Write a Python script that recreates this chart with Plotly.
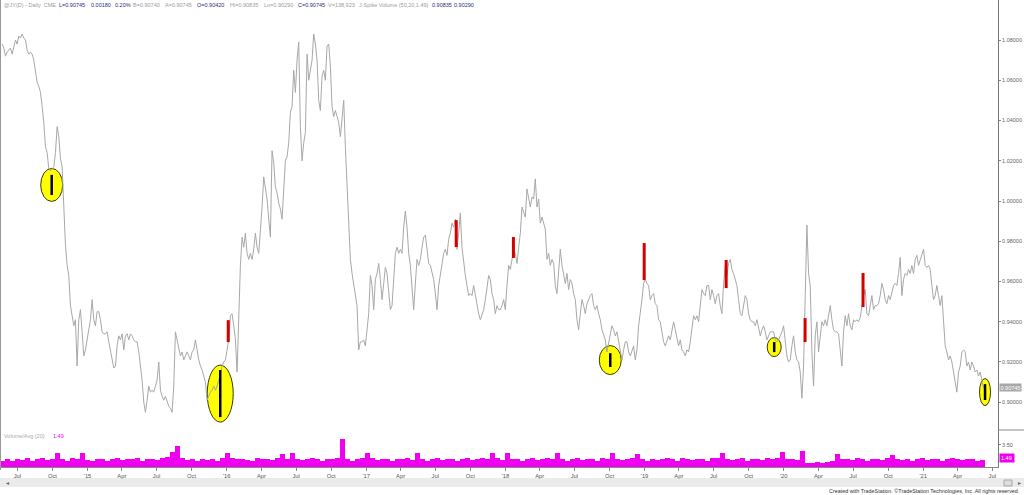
import pandas as pd
import plotly.graph_objects as go

# ---- price line (close), Jun-2014 .. Jun-2021 ----
price_2014_15 = [
    1.078, 1.076, 1.072, 1.074, 1.075, 1.076, 1.073, 1.077, 1.080, 1.078,
    1.082, 1.081, 1.083, 1.081, 1.080, 1.075, 1.073, 1.074, 1.073, 1.070,
    1.064, 1.059, 1.057, 1.054, 1.047, 1.039, 1.027, 1.024, 1.016, 1.015,
    1.016, 1.017, 1.024, 1.037, 1.032, 1.021, 1.017, 0.997, 0.978, 0.968,
    0.963, 0.948, 0.943, 0.938, 0.941, 0.918, 0.941, 0.946, 0.935, 0.923,
    0.926, 0.931, 0.936, 0.941, 0.951, 0.941, 0.938, 0.945, 0.945, 0.941,
    0.935, 0.934, 0.934, 0.935, 0.930, 0.925, 0.921, 0.917, 0.918, 0.928,
    0.933, 0.931, 0.934, 0.926, 0.933, 0.934, 0.931, 0.934, 0.933, 0.931,
    0.930, 0.930, 0.925, 0.918, 0.911, 0.900, 0.895, 0.901, 0.908, 0.905,
    0.906, 0.905, 0.908, 0.911, 0.920, 0.906, 0.903, 0.901, 0.903, 0.900,
    0.898, 0.897, 0.895, 0.908, 0.935, 0.931, 0.926, 0.923, 0.925, 0.921,
    0.923, 0.925, 0.923, 0.921, 0.925, 0.926, 0.931, 0.925, 0.921, 0.918,
    0.916, 0.913, 0.910, 0.901, 0.903, 0.905, 0.906, 0.908, 0.906, 0.908,
    0.911, 0.915, 0.918, 0.920, 0.921, 0.926, 0.931, 0.943, 0.944, 0.938,
    0.931, 0.915, 0.944, 0.968, 0.982, 0.977, 0.984, 0.974, 0.971,
]
price_2016_17 = [
    0.974, 0.971, 0.976, 0.984, 0.977, 0.974, 0.984, 0.997, 1.012, 1.006,
    1.001, 0.991, 0.982, 1.025, 1.019, 1.007, 1.004, 0.999, 0.996, 0.991,
    1.007, 1.020, 1.022, 1.029, 1.044, 1.047, 1.065, 1.054, 1.070, 1.079,
    1.037, 1.020, 1.029, 1.034, 1.073, 1.060, 1.065, 1.070, 1.083, 1.078,
    1.070, 1.050, 1.045, 1.062, 1.065, 1.060, 1.077, 1.078, 1.067, 1.047,
    1.042, 1.045, 1.042, 1.039, 1.032, 1.040, 1.050, 1.027, 1.007, 0.991,
    0.971, 0.964, 0.958, 0.954, 0.948, 0.926, 0.930, 0.930, 0.931, 0.928,
    0.938, 0.944, 0.963, 0.958, 0.946, 0.961, 0.964, 0.969, 0.961, 0.951,
    0.959, 0.967, 0.964, 0.953, 0.946, 0.948, 0.964, 0.974, 0.977, 0.974,
    0.976, 0.974, 0.987, 0.995, 0.987, 0.974, 0.968, 0.958, 0.946, 0.959,
    0.971, 0.968, 0.971, 0.977, 0.982, 0.983, 0.977, 0.969, 0.968, 0.964,
    0.961, 0.954, 0.946, 0.958, 0.964, 0.968, 0.974, 0.976, 0.973, 0.981,
    0.984, 0.989, 0.987, 0.991, 0.976, 0.984, 0.994, 0.977, 0.968, 0.963,
    0.958, 0.953, 0.954, 0.953, 0.958, 0.953, 0.948, 0.944, 0.941, 0.944,
    0.946, 0.951, 0.956, 0.963, 0.961, 0.954, 0.951, 0.944, 0.948, 0.946,
]
price_2018_19 = [
    0.946, 0.948, 0.951, 0.946, 0.958, 0.968, 0.966, 0.971, 0.976, 0.974,
    0.969, 0.977, 0.984, 0.997, 0.994, 0.992, 1.006, 1.002, 0.997, 1.002,
    1.001, 1.011, 0.997, 1.001, 0.989, 0.992, 0.989, 0.986, 0.971, 0.974,
    0.968, 0.971, 0.969, 0.958, 0.954, 0.966, 0.976, 0.968, 0.964, 0.959,
    0.964, 0.956, 0.961, 0.959, 0.954, 0.951, 0.941, 0.936, 0.944, 0.951,
    0.948, 0.944, 0.949, 0.951, 0.953, 0.954, 0.948, 0.946, 0.948, 0.944,
    0.941, 0.936, 0.933, 0.931, 0.925, 0.930, 0.935, 0.938, 0.936, 0.933,
    0.935, 0.930, 0.925, 0.921, 0.926, 0.930, 0.930, 0.925, 0.923, 0.926,
    0.928, 0.921, 0.926, 0.938, 0.944, 0.951, 0.959, 0.961, 0.959, 0.958,
    0.951, 0.953, 0.954, 0.949, 0.948, 0.941, 0.940, 0.935, 0.930, 0.928,
    0.931, 0.933, 0.931, 0.935, 0.940, 0.936, 0.931, 0.928, 0.931, 0.926,
    0.925, 0.923, 0.926, 0.925, 0.930, 0.938, 0.943, 0.941, 0.943, 0.940,
    0.948, 0.956, 0.954, 0.953, 0.958, 0.958, 0.951, 0.956, 0.953, 0.949,
    0.953, 0.954, 0.948, 0.944, 0.959, 0.968, 0.963, 0.969, 0.971, 0.966,
    0.964, 0.961, 0.958, 0.951, 0.944, 0.943, 0.948, 0.953, 0.951, 0.944,
]
price_2020_21 = [
    0.941, 0.940, 0.940, 0.938, 0.941, 0.936, 0.933, 0.936, 0.938, 0.935,
    0.931, 0.933, 0.935, 0.935, 0.935, 0.931, 0.930, 0.931, 0.933, 0.935,
    0.938, 0.931, 0.923, 0.920, 0.921, 0.928, 0.933, 0.925, 0.921, 0.920,
    0.915, 0.902, 0.918, 0.953, 0.988, 0.964, 0.958, 0.925, 0.908, 0.933,
    0.940, 0.925, 0.933, 0.940, 0.938, 0.941, 0.938, 0.943, 0.948, 0.941,
    0.936, 0.935, 0.935, 0.934, 0.926, 0.918, 0.935, 0.943, 0.938, 0.944,
    0.938, 0.936, 0.941, 0.940, 0.941, 0.940, 0.942, 0.948, 0.953, 0.956,
    0.944, 0.943, 0.948, 0.953, 0.946, 0.948, 0.948, 0.949, 0.953, 0.959,
    0.956, 0.951, 0.949, 0.953, 0.951, 0.954, 0.958, 0.959, 0.958, 0.964,
    0.972, 0.953, 0.961, 0.964, 0.963, 0.966, 0.964, 0.968, 0.964, 0.971,
    0.973, 0.968, 0.971, 0.974, 0.976, 0.968, 0.967, 0.968, 0.966, 0.958,
    0.951, 0.953, 0.958, 0.953, 0.948, 0.953, 0.938, 0.928, 0.925, 0.921,
    0.923, 0.920, 0.915, 0.910, 0.905, 0.915, 0.918, 0.925, 0.926, 0.925,
    0.918, 0.920, 0.916, 0.920, 0.918, 0.915, 0.916, 0.913, 0.915, 0.911,
    0.907,
]
price = price_2014_15 + price_2016_17 + price_2018_19 + price_2020_21
price_dates = pd.date_range("2014-05-22", "2021-06-08", periods=len(price))

# ---- volume / 20-day average ----
vol_ratio = [
    1.0, 1.2, 0.9, 1.3, 1.1, 1.4, 1.0, 1.2, 1.5, 1.1, 1.3, 2.2, 1.2, 1.0, 1.4, 1.3, 2.3, 1.1, 0.9, 1.2,
    1.3, 1.0, 1.2, 1.4, 1.1, 1.3, 1.2, 1.5, 1.0, 1.2, 1.3, 1.1, 1.4, 1.6, 2.4, 3.3, 1.4, 1.1, 1.2, 1.0,
    1.2, 1.1, 1.3, 1.0, 1.4, 2.3, 1.5, 1.2, 1.3, 1.1, 1.0, 1.4, 1.2, 1.3, 1.1, 1.5, 2.1, 1.3, 2.2, 1.2,
    1.1, 1.3, 1.4, 1.2, 1.0, 1.3, 1.2, 1.4, 4.4, 1.3, 1.0, 1.2, 1.5, 2.3, 1.4, 1.1, 1.3, 1.2, 1.0, 1.3,
    1.2, 1.4, 1.1, 2.2, 1.3, 1.0, 1.2, 1.4, 1.1, 1.3, 1.2, 1.0, 1.3, 1.4, 1.1, 1.2, 1.5, 1.3, 2.2, 1.4,
    1.1, 2.2, 1.3, 1.2, 1.0, 1.3, 1.4, 1.1, 1.2, 1.5, 1.3, 2.3, 1.2, 1.0, 1.3, 1.4, 1.1, 1.2, 1.3, 1.0,
    1.4, 1.2, 2.2, 1.3, 1.1, 1.2, 1.4, 2.1, 1.3, 1.0, 1.2, 1.1, 1.3, 1.5, 1.2, 1.0, 1.4, 1.3, 1.1, 1.2,
    1.3, 1.0, 1.4, 1.5, 2.3, 1.2, 1.1, 1.3, 1.4, 1.0, 1.2, 1.3, 1.1, 1.4, 1.2, 1.5, 2.4, 1.3, 1.2, 1.1,
    2.5, 0.7, 0.7, 0.8, 0.7, 0.8, 0.9, 2.0, 1.3, 1.2, 1.1, 1.4, 1.3, 1.0, 1.2, 1.3, 1.1, 1.4, 1.9, 1.2,
    1.1, 1.3, 1.0, 1.2, 1.4, 1.1, 1.3, 1.2, 1.0, 1.3, 1.4, 1.2, 1.1, 1.3, 1.2, 1.0, 1.1,
]
vol_dates = pd.date_range("2014-05-24", "2021-06-06", periods=len(vol_ratio))

# ---- J-Spike markers: ringed (yellow) and red bars ----
ring_dates = ["2014-09-29", "2015-12-15", "2018-10-03", "2019-12-07", "2021-06-12"]
ring_lo = [1.003, 0.8926, 0.9175, 0.9249, 0.9011]
ring_hi = [1.013, 0.9160, 0.9244, 0.9299, 0.9090]
ring_size = [(22, 33), (26, 57), (22, 29), (14, 19), (11, 27)]

red_dates = ["2016-01-05", "2017-08-25", "2018-01-22", "2018-12-31",
             "2019-08-03", "2020-02-26", "2020-07-27"]
red_lo = [0.9299, 0.9771, 0.9717, 0.9607, 0.9567, 0.9299, 0.9473]
red_hi = [0.9408, 0.9905, 0.9821, 0.9791, 0.9707, 0.9418, 0.9642]

last_price = 0.90745
last_vol_ratio = 1.49
price_ticks = [0.90, 0.92, 0.94, 0.96, 0.98, 1.00, 1.02, 1.04, 1.06, 1.08]

GREY = "#9c9c9c"
NAVY = "#2b2b80"
header = [  # (text, colour, x pixel)
    ("@JY(D) - Daily  CME", GREY, 2), ("L=0.90745", NAVY, 57), ("0.00180", NAVY, 89),
    ("0.20%", NAVY, 113), ("B=0.90740", GREY, 131), ("A=0.90745", GREY, 163),
    ("O=0.90420", NAVY, 195), ("Hi=0.90835", GREY, 228), ("Lo=0.90290", GREY, 262),
    ("C=0.90745", NAVY, 296), ("V=138,923", GREY, 326),
    ("J-Spike Volume (50,20,1.49)", GREY, 357), ("0.90835", NAVY, 430), ("0.90290", NAVY, 452),
]

W, H = 1024, 495
L, R, T, B = 1, 26, 0, 28
PW, PH = W - L - R, H - T - B


def px(x):
    return (x - L) / PW


def py(y):
    return (H - B - y) / PH


split = py(430)
FONT = "Liberation Sans, Arial, sans-serif"

fig = go.Figure()

fig.add_trace(go.Scatter(x=price_dates, y=price, mode="lines",
                         line=dict(color="#a8a8a8", width=1), hoverinfo="skip"))

fig.add_trace(go.Bar(x=vol_dates, y=vol_ratio, marker=dict(color="#f000f0", line_width=0),
                     yaxis="y2", hoverinfo="skip"))

bx, by = [], []
for d, lo, hi in zip(ring_dates, ring_lo, ring_hi):
    bx += [d, d, None]
    by += [lo, hi, None]
fig.add_trace(go.Scatter(x=bx, y=by, mode="lines", line=dict(color="black", width=2.5),
                         hoverinfo="skip"))

rx, ry = [], []
for d, lo, hi in zip(red_dates, red_lo, red_hi):
    rx += [d, d, None]
    ry += [lo, hi, None]
fig.add_trace(go.Scatter(x=rx, y=ry, mode="lines", line=dict(color="#d40000", width=3),
                         hoverinfo="skip"))

shapes = []
for d, lo, hi, (w, h) in zip(ring_dates, ring_lo, ring_hi, ring_size):
    shapes.append(dict(type="circle", xref="x", yref="y", xsizemode="pixel", ysizemode="pixel",
                       xanchor=d, yanchor=(lo + hi) / 2, x0=-w / 2, x1=w / 2, y0=-h / 2, y1=h / 2,
                       fillcolor="#ffff00", line=dict(color="#3a3a00", width=1), layer="below"))
# frame bits
shapes += [
    dict(type="line", xref="paper", yref="paper", x0=px(998), x1=px(1024), y0=split, y1=split,
         line=dict(color="#888", width=1)),
    dict(type="line", xref="paper", yref="paper", x0=px(0.5), x1=px(0.5), y0=py(0), y1=py(470),
         line=dict(color="#999", width=1)),
    dict(type="rect", xref="paper", yref="paper", x0=px(0), x1=px(1024), y0=py(478), y1=py(487),
         fillcolor="#ebebeb", line=dict(width=0), layer="below"),
    dict(type="rect", xref="paper", yref="paper", x0=px(1004), x1=px(1012), y0=py(480), y1=py(486),
         fillcolor="#dcdcdc", line=dict(color="#aaa", width=1)),
]

ann = []
for text, col, x in header:
    ann.append(dict(text=text, x=px(x), y=py(5), xref="paper", yref="paper", xanchor="left",
                    yanchor="middle", showarrow=False, font=dict(size=5.5, color=col, family=FONT)))
ann += [
    dict(text="Volume/Avg (20)", x=px(2), y=py(436), xref="paper", yref="paper", xanchor="left",
         yanchor="middle", showarrow=False, font=dict(size=5.5, color="#aaa", family=FONT)),
    dict(text=f"{last_vol_ratio:.2f}", x=px(51), y=py(436), xref="paper", yref="paper",
         xanchor="left", yanchor="middle", showarrow=False,
         font=dict(size=5.5, color="#f000f0", family=FONT)),
    dict(text=f"{last_price:.5f}", x=px(999), y=last_price, xref="paper", yref="y",
         xanchor="left", yanchor="middle", showarrow=False, bgcolor="#a8a8a8", borderpad=0.5,
         font=dict(size=5.5, color="white", family=FONT)),
    dict(text=f"{last_vol_ratio:.2f} ", x=px(999), y=last_vol_ratio, xref="paper", yref="y2",
         xanchor="left", yanchor="middle", showarrow=False, bgcolor="#f000f0", borderpad=1,
         font=dict(size=5.5, color="white", family=FONT)),
    dict(text="Created with TradeStation. ©TradeStation Technologies, Inc. All rights reserved.",
         x=px(1021), y=py(491), xref="paper", yref="paper", xanchor="right", yanchor="middle",
         showarrow=False, font=dict(size=5.4, color="#333", family=FONT)),
    dict(text="◂", x=px(4), y=py(482.5), xref="paper", yref="paper", xanchor="left",
         yanchor="middle", showarrow=False, font=dict(size=6, color="#666", family=FONT)),
    dict(text="▸", x=px(1016), y=py(482.5), xref="paper", yref="paper", xanchor="left",
         yanchor="middle", showarrow=False, font=dict(size=6, color="#666", family=FONT)),
]

tick_dates = pd.date_range("2014-07-01", "2021-07-01", freq="QS")
tick_text = [f"'{d:%y}" if d.month == 1 else f"{d:%b}" for d in tick_dates]

fig.update_layout(
    width=W, height=H, margin=dict(l=L, r=R, t=T, b=B),
    paper_bgcolor="white", plot_bgcolor="white", showlegend=False, bargap=0,
    font=dict(family=FONT, size=5.5, color="#555"),
    shapes=shapes, annotations=ann,
    xaxis=dict(type="date", range=["2014-05-19", "2021-07-16"], anchor="y2",
               tickvals=tick_dates, ticktext=tick_text, showgrid=False, zeroline=False,
               showline=True, linecolor="#888", linewidth=1, ticks="outside", ticklen=3,
               tickcolor="#888", tickfont=dict(size=5.8, color="#555")),
    yaxis=dict(domain=[split, 1], range=[0.8862, 1.0999], side="right", showgrid=False,
               zeroline=False, showline=True, linecolor="#777", linewidth=1,
               tickvals=price_ticks, ticktext=[f"{v:.5f}" for v in price_ticks],
               ticks="outside", ticklen=2, tickcolor="#888", tickfont=dict(size=5.5, color="#666")),
    yaxis2=dict(domain=[0, split], range=[0, 5.88], side="right", showgrid=False,
                zeroline=False, showline=True, linecolor="#777", linewidth=1,
                tickvals=[3.5], ticktext=["3.50"], ticks="outside", ticklen=2,
                tickcolor="#888", tickfont=dict(size=5.5, color="#666")),
)

# the page body has a default 8px margin; drop it so the figure sits at the window corner
fig.write_html("out.html", config={"displayModeBar": False},
               post_script="document.body.style.margin='0px';")
